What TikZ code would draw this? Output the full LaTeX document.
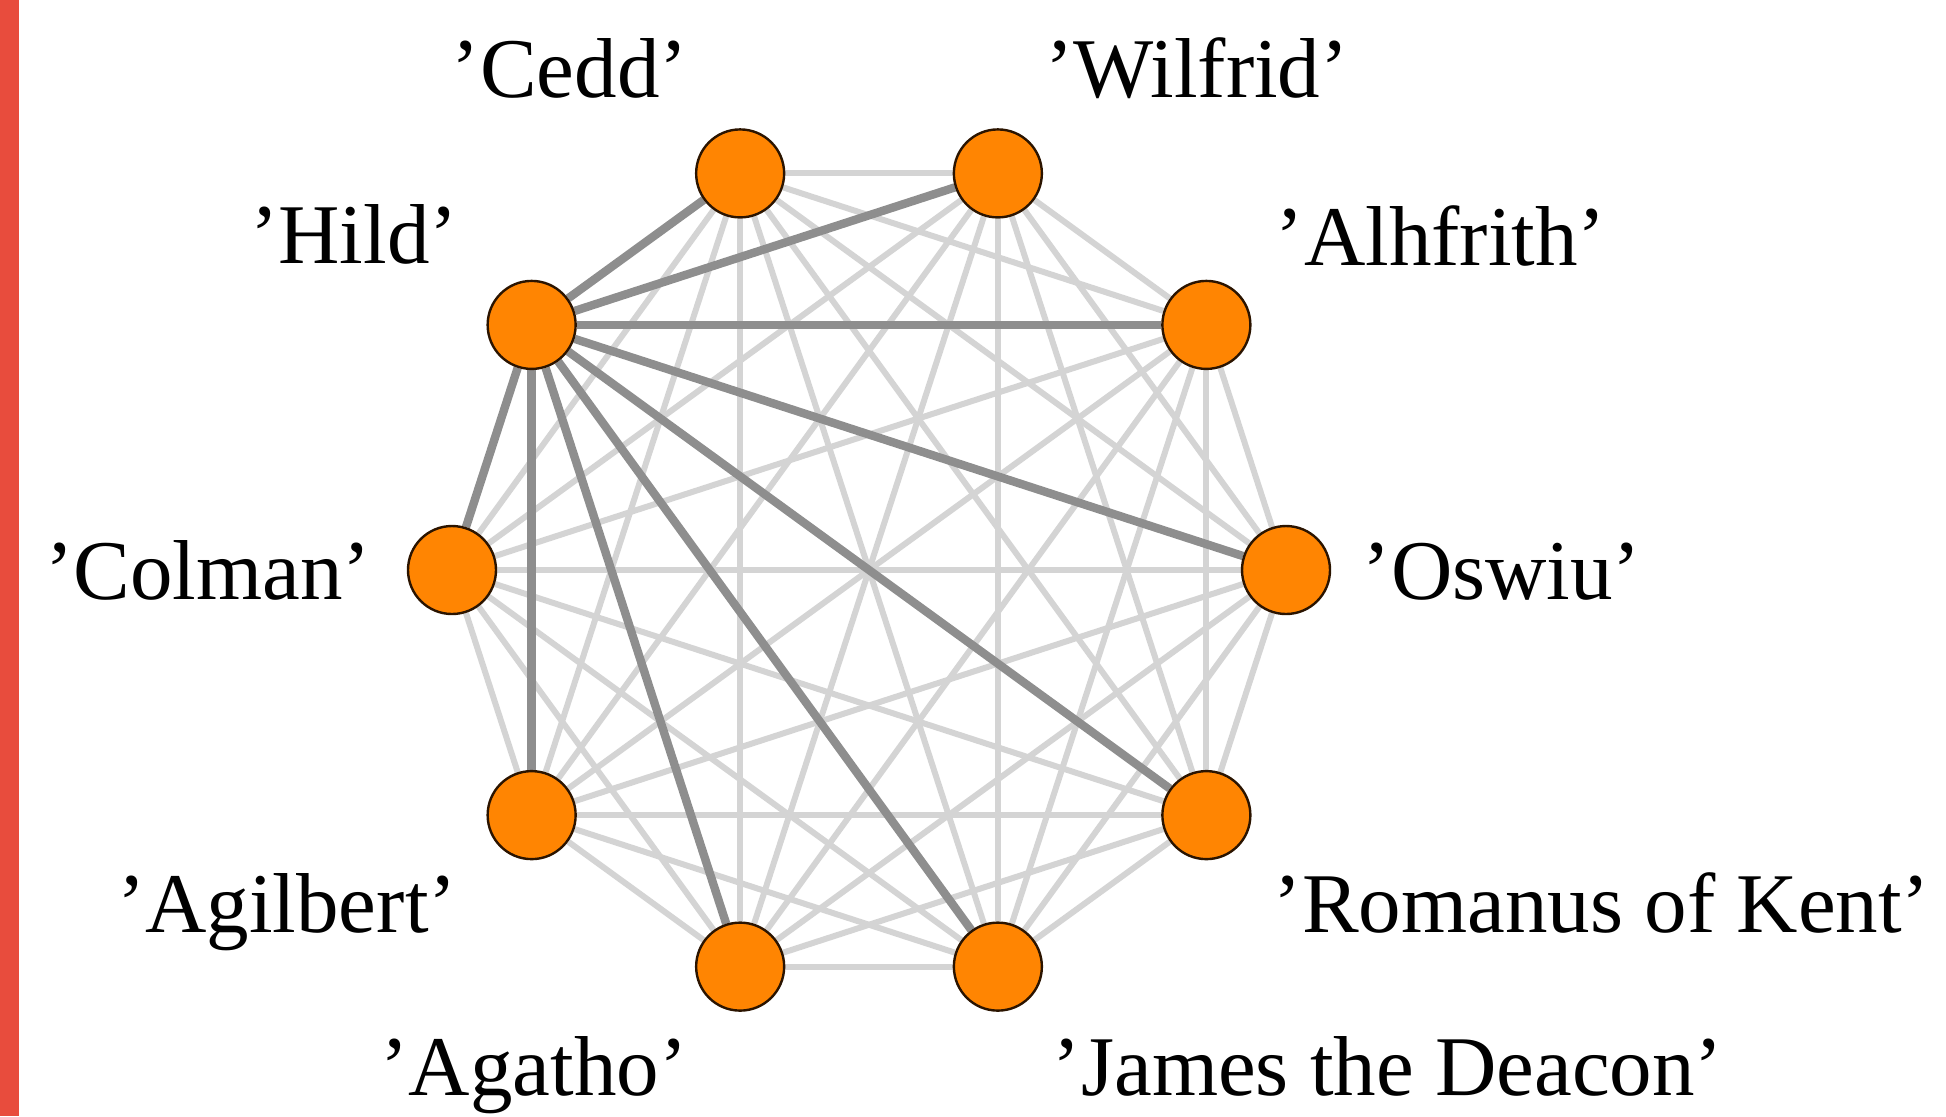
\documentclass[tikz,border=0pt]{standalone}
\usepackage{fontspec}
\setmainfont{Liberation Serif}
\usetikzlibrary{backgrounds}
\definecolor{redbar}{HTML}{E84C3D}
\definecolor{nodeorange}{HTML}{FF8502}
\definecolor{nodeline}{HTML}{2B1400}
\definecolor{darkedge}{HTML}{8E8E8E}
\definecolor{lightedge}{HTML}{D4D4D4}
\tikzset{
  vtx/.style={circle, draw=nodeline, fill=nodeorange, line width=1.2pt, minimum size=44pt, inner sep=0pt},
  lightline/.style={draw=lightedge, line width=3pt},
  darkline/.style={draw=darkedge, line width=4.2pt},
  lbl/.style={anchor=base, inner sep=0pt, font=\fontsize{42.5}{50}\selectfont}
}
\begin{document}
\begin{tikzpicture}[x=0.5pt,y=-0.5pt]
\useasboundingbox (0,0) rectangle (1946,1116);
\fill[redbar] (0,0) rectangle (19,1116);
% vertices on a circle, centre (869,570), radius 417
\foreach \i in {0,...,9}{
  \node[vtx] (n\i) at ({869+417*cos(36*\i)},{570-417*sin(36*\i)}) {};
}
\begin{scope}[on background layer]
  \foreach \i in {0,...,8}{
    \pgfmathtruncatemacro{\s}{\i+1}
    \foreach \j in {\s,...,9}{
      \ifnum\i=4 \else \ifnum\j=4 \else \draw[lightline] (n\i) -- (n\j); \fi\fi
    }
  }
  \foreach \j in {0,1,2,3,5,6,7,8,9}{
    \draw[darkline] (n4) -- (n\j);
  }
\end{scope}
% labels
\node[lbl] (l0) at (1502,599) {'Oswiu'};
\node[lbl] (l1) at (1441,265) {'Alhfrith'};
\node[lbl] (l2) at (1197,97) {'Wilfrid'};
\node[lbl] (l3) at (570,97) {'Cedd'};
\node[lbl] (l4) at (354,263) {'Hild'};
\node[lbl] (l5) at (208,599) {'Colman'};
\node[lbl] (l6) at (287,932) {'Agilbert'};
\node[lbl] (l7) at (534,1095) {'Agatho'};
\node[lbl] (l8) at (1388,1095) {'James the Deacon'};
\node[lbl] (l9) at (1602,932) {'Romanus of Kent'};
\end{tikzpicture}
\end{document}
